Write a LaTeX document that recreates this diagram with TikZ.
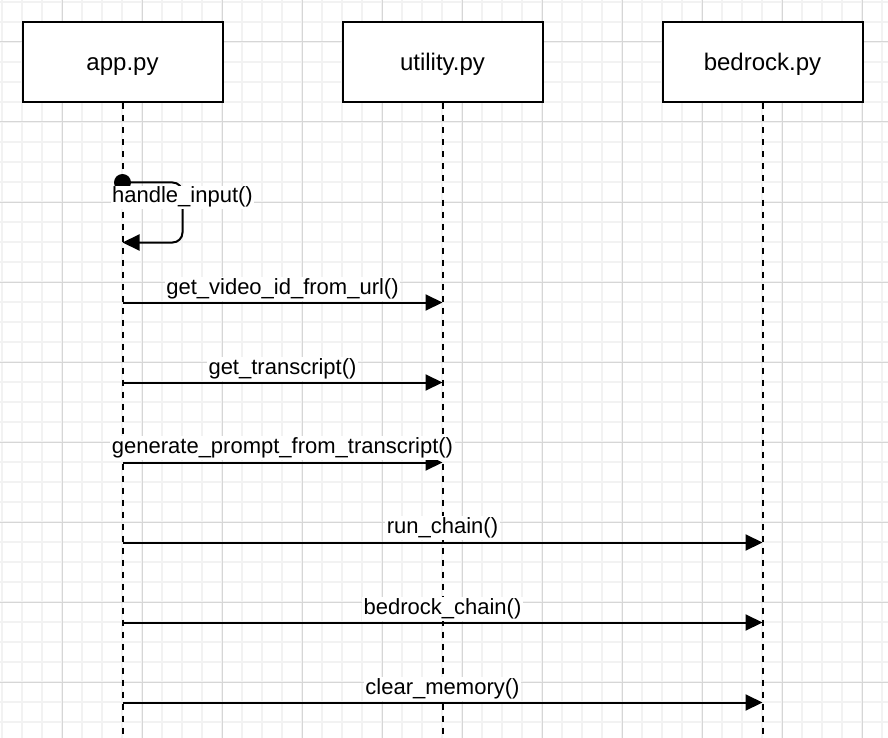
\documentclass[tikz,border=0pt]{standalone}
\usepackage{fontspec}
\setmainfont{Liberation Sans}
\usetikzlibrary{arrows.meta}
\begin{document}
\begin{tikzpicture}[x=1pt,y=-1pt,
  minorgrid/.style={draw=black!5,line width=1.5pt},
  majorgrid/.style={draw=black!16,line width=1pt},
  actor/.style={draw=black,fill=white,line width=2pt,minimum width=200pt,minimum height=80pt,inner sep=0pt,text height=18pt,text depth=2pt,font=\fontsize{24pt}{28pt}\selectfont},
  lifeline/.style={line width=2pt,dash pattern=on 6pt off 6pt},
  msg/.style={line width=2pt,-{Triangle[length=17pt,width=16pt]}},
  msglabel/.style={fill=white,inner sep=1.5pt,font=\fontsize{22pt}{26pt}\selectfont,anchor=base}]

\useasboundingbox (0,0) rectangle (888,738);
\fill[white] (0,0) rectangle (888,738);

% grid
\foreach \x in {2,22,...,882} \draw[minorgrid] (\x,0) -- (\x,738);
\foreach \y in {2,22,...,722} \draw[minorgrid] (0,\y) -- (888,\y);
\foreach \x in {62,142,...,862} \draw[majorgrid] (\x,0) -- (\x,738);
\foreach \y in {42,122,...,682} \draw[majorgrid] (0,\y) -- (888,\y);

% actors
\node[actor] (app) at (122.5,62.5) {app.py};
\node[actor] (util) at (442.5,62.5) {utility.py};
\node[actor] (bed) at (762.5,62.5) {bedrock.py};

% lifelines
\coordinate (appE) at (122.5,738);
\coordinate (utilE) at (442.5,738);
\coordinate (bedE) at (762.5,738);
\draw[lifeline] (app.south) -- (appE);
\draw[lifeline] (util.south) -- (utilE);
\draw[lifeline] (bed.south) -- (bedE);

% self message
\coordinate (s1a) at (122.5,182.5);
\coordinate (s1c1) at (182.5,182.5);
\coordinate (s1c2) at (182.5,242.5);
\coordinate (s1b) at (122.5,242.5);
\fill (s1a) circle (8.5pt);
\draw[msg,rounded corners=10pt] (s1a) -- (s1c1) -- (s1c2) -- (s1b);
\node[msglabel] (s1l) at (182.5,203) {handle\_input()};

% messages
\coordinate (m1a) at (122.5,302.5);
\coordinate (m1b) at (442.5,302.5);
\draw[msg] (m1a) -- node[msglabel,midway,yshift=8pt] (m1l) {get\_video\_id\_from\_url()} (m1b);

\coordinate (m2a) at (122.5,382.5);
\coordinate (m2b) at (442.5,382.5);
\draw[msg] (m2a) -- node[msglabel,midway,yshift=8pt] (m2l) {get\_transcript()} (m2b);

\coordinate (m3a) at (122.5,462.5);
\coordinate (m3b) at (442.5,462.5);
\draw[msg] (m3a) -- node[msglabel,midway,yshift=9pt] (m3l) {generate\_prompt\_from\_transcript()} (m3b);

\coordinate (m4a) at (122.5,542.5);
\coordinate (m4b) at (762.5,542.5);
\draw[msg] (m4a) -- node[msglabel,midway,yshift=9pt] (m4l) {run\_chain()} (m4b);

\coordinate (m5a) at (122.5,622.5);
\coordinate (m5b) at (762.5,622.5);
\draw[msg] (m5a) -- node[msglabel,midway,yshift=8pt] (m5l) {bedrock\_chain()} (m5b);

\coordinate (m6a) at (122.5,702.5);
\coordinate (m6b) at (762.5,702.5);
\draw[msg] (m6a) -- node[msglabel,midway,yshift=8pt] (m6l) {clear\_memory()} (m6b);
\end{tikzpicture}
\end{document}
